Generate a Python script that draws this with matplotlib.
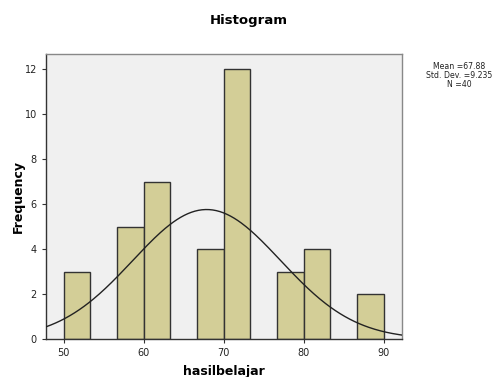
import matplotlib
matplotlib.use("Agg")
import matplotlib.pyplot as plt
import numpy as np

# histogram data (SPSS style output)
bin_edges = [50, 53.333, 56.667, 60, 63.333, 66.667, 70, 73.333, 76.667, 80, 83.333, 86.667, 90]
counts = [3, 0, 5, 7, 0, 4, 12, 0, 3, 4, 0, 2]
mean = 67.88
sd = 9.235
n = 40

fig = plt.figure(figsize=(4.98, 3.77), dpi=100)
ax = fig.add_axes([0.0924, 0.1008, 0.7149, 0.756])
ax.set_facecolor("#f0f0f0")

edges = np.array(bin_edges)
widths = np.diff(edges)
for left, w, c in zip(edges[:-1], widths, counts):
    if c > 0:
        ax.bar(left, c, width=w, align="edge", color="#d3ce97",
               edgecolor="#333333", linewidth=1.0, zorder=2)

# normal curve scaled to counts
bw = widths.mean()
xs = np.linspace(47.8, 92.3, 300)
ys = n * bw / (sd * np.sqrt(2 * np.pi)) * np.exp(-0.5 * ((xs - mean) / sd) ** 2)
ax.plot(xs, ys, color="#222222", linewidth=1.0, zorder=3)

ax.set_xlim(47.8, 92.3)
ax.set_ylim(0, 12.68)
ax.set_xticks([50, 60, 70, 80, 90])
ax.set_yticks([0, 2, 4, 6, 8, 10, 12])
ax.tick_params(labelsize=7, length=3, width=0.8, color="#333333", labelcolor="#222222")
for s in ax.spines.values():
    s.set_color("#888888")
    s.set_linewidth(1.0)
ax.spines["left"].set_color("#333333")
ax.spines["bottom"].set_color("#333333")

ax.set_xlabel("hasilbelajar", fontsize=9, fontweight="bold", labelpad=5)
ax.set_ylabel("Frequency", fontsize=9, fontweight="bold", labelpad=0)
fig.text(0.5, 0.945, "Histogram", ha="center", va="center", fontsize=9.5, fontweight="bold")
fig.text(0.922, 0.80, "Mean =%.2f\nStd. Dev. =%.3f\nN =%d" % (mean, sd, n),
         ha="center", va="center", fontsize=5.6, linespacing=0.95, color="#222222")

fig.savefig("out.png", dpi=100)
